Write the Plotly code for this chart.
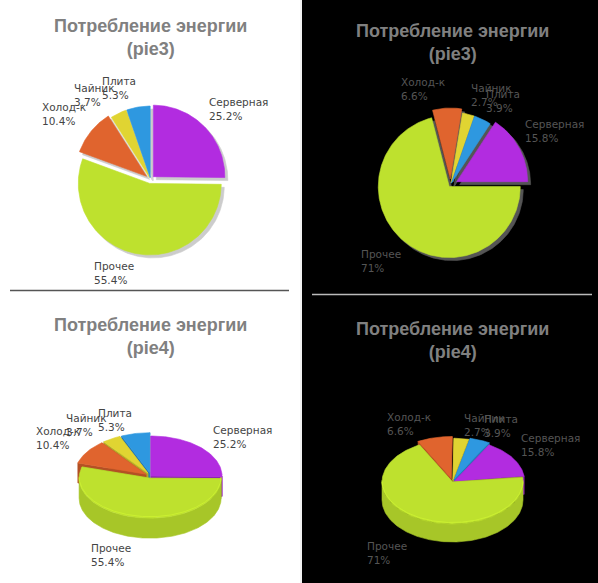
import math

import plotly.graph_objects as go

LABELS = ["Серверная", "Прочее", "Холод-к", "Чайник", "Плита"]
SHARE_LIGHT = [25.2, 55.4, 10.4, 3.7, 5.3]
SHARE_DARK = [15.8, 71.0, 6.6, 2.7, 3.9]
TITLE = "Потребление энергии"
KINDS = ["pie3", "pie4"]

COLORS = ["#b22ce0", "#bee12e", "#e0642e", "#e0d432", "#2e98e0"]
W, H = 598, 583


def shade(hex_color, k):
    r, g, b = (min(255, int(int(hex_color[i:i + 2], 16) * k)) for i in (1, 3, 5))
    return "rgb({},{},{})".format(r, g, b)


def slice_spans(values, rotation):
    total = float(sum(values))
    start = rotation
    spans = []
    for v in values:
        end = start + 360.0 * v / total
        spans.append((start, end))
        start = end
    return spans


def pct_text(values):
    total = float(sum(values))
    return ["{:g}%".format(round(100.0 * v / total, 1)) for v in values]


def warp(deg, k):
    # the tilted pies stretch angles towards the sides of the ellipse
    a = math.radians(deg)
    w = math.degrees(math.atan2(math.sin(a), k * math.cos(a)))
    return w + 360.0 * round((deg - w) / 360.0)


def pt(cx, cy, rx, ry, deg):
    a = math.radians(deg)
    return cx + rx * math.sin(a), cy - ry * math.cos(a)


def arc(cx, cy, rx, ry, a0, a1, step=1.0):
    n = max(2, int(abs(a1 - a0) / step) + 2)
    return [pt(cx, cy, rx, ry, a0 + (a1 - a0) * i / (n - 1)) for i in range(n)]


def poly(fig, pts, color, hover=None):
    xs = [p[0] for p in pts] + [pts[0][0]]
    ys = [p[1] for p in pts] + [pts[0][1]]
    fig.add_trace(
        go.Scatter(
            x=xs,
            y=ys,
            mode="lines",
            fill="toself",
            fillcolor=color,
            line=dict(color=color, width=0.6),
            hoverinfo="text" if hover else "skip",
            hoveron="fills",
            text=hover,
            showlegend=False,
        )
    )


def add_label(fig, text, x, y, m, color):
    s, c = math.sin(math.radians(m)), math.cos(math.radians(m))
    fig.add_annotation(
        x=x,
        y=y,
        text=text,
        showarrow=False,
        align="left",
        xanchor="left" if s > 0 else "right",
        yanchor="bottom" if c > 0 else "top",
        font=dict(family="DejaVu Sans", size=10.5, color=color),
    )


def flat_pie(fig, values, cx, cy, r, rotation, pulls, shadow, label_color):
    spans = slice_spans(values, rotation)
    pcts = pct_text(values)
    shapes = []
    for (a0, a1), p in zip(spans, pulls):
        m = (a0 + a1) / 2
        ox, oy = pt(cx, cy, p, p, m)
        shapes.append([(ox, oy)] + arc(ox, oy, r, r, a0, a1))
    for pts in shapes:
        poly(fig, [(x + 3, y + 3) for x, y in pts], shadow)
    for i, pts in enumerate(shapes):
        poly(fig, pts, COLORS[i], "{}: {}".format(LABELS[i], pcts[i]))
    for i, ((a0, a1), p) in enumerate(zip(spans, pulls)):
        m = (a0 + a1) / 2
        lx, ly = pt(cx, cy, r + p + 4, r + p + 4, m)
        add_label(fig, "{}<br>{}".format(LABELS[i], pcts[i]), lx, ly, m, label_color)


def front_parts(a0, a1):
    parts = []
    for k in range(-1, 3):
        lo, hi = 90 + 360 * k, 270 + 360 * k
        b0, b1 = max(a0, lo), min(a1, hi)
        if b1 > b0:
            parts.append((b0, b1))
    return parts


def tilted_pie(fig, values, cx, cy, rx, ry, depth, rotation, pulls, label_color, k=0.8):
    spans = slice_spans(values, rotation)
    pcts = pct_text(values)
    t = ry / rx
    items = []
    for i, ((a0, a1), p) in enumerate(zip(spans, pulls)):
        m = warp((a0 + a1) / 2, k)
        sx, sy = pt(cx, cy, p, p * t, m)
        items.append((i, warp(a0, k), warp(a1, k), m, sx, sy))
    # back slices first
    for i, a0, a1, m, sx, sy in sorted(items, key=lambda it: -math.cos(math.radians(it[3]))):
        color = COLORS[i]
        walls = []
        for ang, visible in ((a0, math.sin(math.radians(a0)) < 0), (a1, math.sin(math.radians(a1)) > 0)):
            ex, ey = pt(sx, sy, rx, ry, ang)
            walls.append((visible, [(sx, sy), (ex, ey), (ex, ey + depth), (sx, sy + depth)]))
        for _, quad in sorted(walls, key=lambda w: w[0]):
            poly(fig, quad, shade(color, 0.8))
        rims = []
        for b0, b1 in front_parts(a0, a1):
            top = arc(sx, sy, rx, ry, b0, b1)
            bottom = [(x, y + depth) for x, y in reversed(top)]
            poly(fig, top + bottom, shade(color, 0.88))
            rims.append(top)
        poly(fig, [(sx, sy)] + arc(sx, sy, rx, ry, a0, a1), color, "{}: {}".format(LABELS[i], pcts[i]))
        for top in rims:
            fig.add_trace(
                go.Scatter(
                    x=[p[0] for p in top],
                    y=[p[1] - 1.5 for p in top],
                    mode="lines",
                    line=dict(color=shade(color, 1.07), width=1),
                    hoverinfo="skip",
                    showlegend=False,
                )
            )
    for i, a0, a1, m, sx, sy in items:
        lx, ly = pt(sx, sy, rx + 5, ry - 1, m)
        if math.cos(math.radians(m)) < 0:
            ly += depth + 4
        add_label(fig, "{}<br>{}".format(LABELS[i], pcts[i]), lx, ly, m, label_color)


fig = go.Figure()

# dark half of the page
fig.add_shape(type="rect", x0=302, x1=W, y0=0, y1=H, fillcolor="#000000", line_width=0, layer="below")
fig.add_shape(type="line", x0=301, x1=301, y0=0, y1=H, line=dict(color="#e4e4e4", width=1), layer="below")
fig.add_shape(type="line", x0=10, x1=289, y0=290.5, y1=290.5, line=dict(color="#555555", width=1.5))
fig.add_shape(type="line", x0=312, x1=592, y0=294.5, y1=294.5, line=dict(color="#bbbbbb", width=1.5))

dark_rotation = 90 - 360.0 * SHARE_DARK[0] / sum(SHARE_DARK)

flat_pie(fig, SHARE_LIGHT, 150.5, 179.5, 71.5, 0, [4, 4, 5, 2, 2], "#cccccc", "#444444")
flat_pie(fig, SHARE_DARK, 450.5, 185, 71, dark_rotation, [7, 2, 6, 2, 2], "#555555", "#555555")
tilted_pie(fig, SHARE_LIGHT, 151, 476, 71, 40, 20, 0, [0, 4, 6, 6, 6], "#444444")
tilted_pie(fig, SHARE_DARK, 452.5, 482, 70.5, 42, 18, 24.5, [2, 0, 6, 3, 5], "#555555")

title_pos = [(150, 37.5, KINDS[0]), (452.5, 42.5, KINDS[0]), (150, 336, KINDS[1]), (452.5, 340, KINDS[1])]
for tx, ty, kind in title_pos:
    fig.add_annotation(
        x=tx,
        y=ty,
        text="<b>{}<br>({})</b>".format(TITLE, kind),
        showarrow=False,
        xanchor="center",
        yanchor="middle",
        font=dict(family="Liberation Sans, Arial", size=18, color="#808080"),
    )

fig.update_xaxes(range=[0, W], visible=False, fixedrange=True)
fig.update_yaxes(range=[H, 0], visible=False, fixedrange=True)
fig.update_layout(
    width=W,
    height=H,
    margin=dict(l=0, r=0, t=0, b=0),
    paper_bgcolor="#ffffff",
    plot_bgcolor="#ffffff",
    showlegend=False,
    hovermode="closest",
)

# the page body has a default 8px margin; drop it so the figure fills the window
fig.write_html(
    "out.html",
    config={"displayModeBar": False},
    post_script="document.body.style.margin = '0';",
)
